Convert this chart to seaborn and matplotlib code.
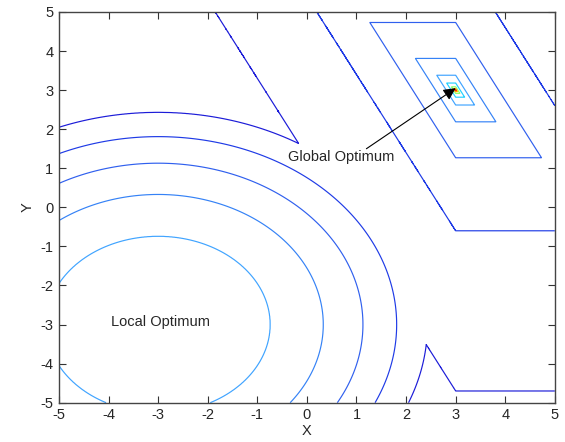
import numpy as np
import matplotlib
matplotlib.use("Agg")
import matplotlib.pyplot as plt
import seaborn as sns

# Contour data
local_center = (-3.0, -3.0)
local_radii = [5.43, 4.81, 4.13, 3.33, 2.26]        # contour levels 0..4
global_center = (3.0, 3.0)
global_shear = 2.0                                    # slope of the slanted sides
global_sizes = [7.7, 3.6, 1.73, 0.81, 0.38, 0.18, 0.085, 0.04, 0.016]  # levels 0..8
level_colors = ["#1c1cd8", "#1f3be6", "#3060ee", "#3582f6", "#40a4ff",
                "#22d0ff", "#8cff70", "#ffc000", "#ff2000"]
ticks = [-5, -4, -3, -2, -1, 0, 1, 2, 3, 4, 5]

sns.set_style("ticks")
plt.rcParams["font.family"] = ["Liberation Sans", "DejaVu Sans"]
plt.rcParams["axes.unicode_minus"] = False

# grid and landscape: max of the local and global peaks
xs = np.linspace(-5, 5, 1401)
X, Y = np.meshgrid(xs, xs)
r = np.hypot(X - local_center[0], Y - local_center[1])
u = Y - global_center[1]
d = np.maximum(np.abs(u), np.abs(global_shear * (X - global_center[0]) + u))

lv = np.arange(len(global_sizes))
g1 = np.interp(-r, -np.r_[20.0, local_radii, 0.0],
               np.r_[-10.0, lv[:len(local_radii)], 4.6])
g2 = np.interp(-d, -np.r_[30.0, global_sizes, 0.0], np.r_[-10.0, lv, 9.0])
Z = np.maximum(g1, g2)

fig = plt.figure(figsize=(5.65, 4.42), dpi=100)
ax = fig.add_axes([0.1044, 0.0889, 0.8776, 0.884])
ax.contour(X, Y, Z, levels=lv, colors=level_colors, linewidths=0.85)

ax.set_xlim(-5, 5)
ax.set_ylim(-5, 5)
ax.set_xticks(ticks)
ax.set_yticks(ticks)
ax.tick_params(direction="in", top=True, right=True, length=5, width=0.8,
               labelsize=10.5, color="#333333", pad=4)
for s in ax.spines.values():
    s.set_color("#444444")
    s.set_linewidth(1.0)
ax.set_xlabel("X", fontsize=10.5, labelpad=1)
ax.set_ylabel("Y", fontsize=10.5, labelpad=4)

ax.text(-3.96, -2.94, "Local Optimum", fontsize=10.5, va="center", ha="left")
ax.text(-0.38, 1.28, "Global Optimum", fontsize=10.5, va="center", ha="left")
ax.annotate("", xy=(3.0, 3.05), xytext=(1.2, 1.5),
            arrowprops=dict(arrowstyle="-|>", color="black", lw=0.8,
                            mutation_scale=18, shrinkA=0, shrinkB=0))

fig.savefig("out.png", dpi=100)
